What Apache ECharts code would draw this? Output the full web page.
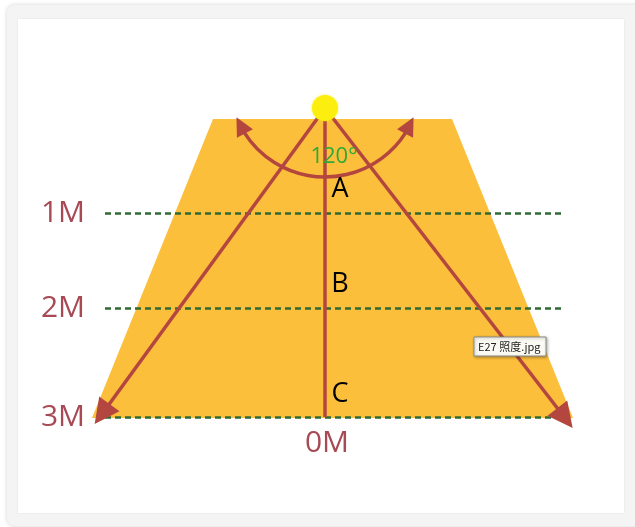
<!DOCTYPE html>
<html>
<head>
<meta charset="utf-8">
<script src="https://cdn.jsdelivr.net/npm/echarts@6/dist/echarts.min.js"></script>
<style>
html,body{margin:0;padding:0;background:#fff;}
#c{width:635px;height:527px;}
</style>
</head>
<body>
<div id="c"></div>
<script>
// Diagram drawn in a 635 x 527 coordinate space (y grows downward)
const trapezoid = [[213,119],[452,119],[573,418],[92,418]];
const levelY = [213, 308, 417];
const levelLabels = ['1M', '2M', '3M'];
const dashX = [105, 562];
const sun = [325, 108];
const beamEnds = [[102, 414], [565, 418]];
const centerBeam = [[325, 110], [325, 417]];
const arc = { cx: 325, cy: 81.5, r: 95.5, tipStart: 22, tipEnd: 158 };
const pointLabels = [['A', 340, 189], ['B', 340, 284], ['C', 340, 394]];
const angleLabel = ['120°', 334, 157];
const zeroLabel = ['0M', 327, 443];

const RED = '#b3463f';
const chart = echarts.init(document.getElementById('c'), null, {renderer: 'canvas'});

const series = [];

// trapezoid light field
series.push({
  type: 'custom', silent: true, z: 1,
  data: [0],
  renderItem: function (params, api) {
    return {
      type: 'polygon',
      shape: { points: trapezoid.map(p => api.coord(p)) },
      style: { fill: '#fcbf3b' }
    };
  }
});

// dashed distance lines
series.push({
  type: 'lines', coordinateSystem: 'cartesian2d', silent: true, z: 2,
  symbol: 'none',
  lineStyle: { color: '#2f6a34', width: 2.5, type: [6, 4], opacity: 1 },
  data: levelY.map(y => ({ coords: [[dashX[0], y], [dashX[1], y]] }))
});

// side beams with arrowheads
series.push({
  type: 'lines', coordinateSystem: 'cartesian2d', silent: true, z: 3,
  symbol: ['none', 'triangle'], symbolSize: [22, 25],
  lineStyle: { color: RED, width: 3.5, opacity: 1 },
  data: beamEnds.map(e => ({ coords: [sun, e] }))
});

// center vertical beam
series.push({
  type: 'lines', coordinateSystem: 'cartesian2d', silent: true, z: 3,
  symbol: 'none',
  lineStyle: { color: RED, width: 3.5, opacity: 1 },
  data: [{ coords: centerBeam }]
});

// 120 degree arc with arrowheads
series.push({
  type: 'custom', silent: true, z: 3,
  data: [0],
  renderItem: function (params, api) {
    const c = api.coord([arc.cx, arc.cy]);
    const r = api.size([arc.r, arc.r])[0];
    const rad = d => d * Math.PI / 180;
    const headDeg = 11;
    const pt = a => [c[0] + r * Math.cos(rad(a)), c[1] + r * Math.sin(rad(a))];
    function head(tipA, baseA) {
      const t = pt(tipA), b = pt(baseA);
      const dx = t[0] - b[0], dy = t[1] - b[1];
      const len = Math.hypot(dx, dy);
      const nx = -dy / len, ny = dx / len, w = 9;
      return {
        type: 'polygon',
        shape: { points: [t, [b[0] + nx * w, b[1] + ny * w], [b[0] - nx * w, b[1] - ny * w]] },
        style: { fill: RED }
      };
    }
    return {
      type: 'group',
      children: [
        {
          type: 'arc',
          shape: { cx: c[0], cy: c[1], r: r, startAngle: rad(arc.tipStart + headDeg - 1), endAngle: rad(arc.tipEnd - headDeg + 1), clockwise: true },
          style: { stroke: RED, lineWidth: 3.5, fill: null }
        },
        head(arc.tipStart, arc.tipStart + headDeg),
        head(arc.tipEnd, arc.tipEnd - headDeg)
      ]
    };
  }
});

// sun
series.push({
  type: 'scatter', silent: true, z: 5,
  symbolSize: 26,
  itemStyle: { color: '#fcee0e', opacity: 1, shadowBlur: 3, shadowColor: 'rgba(250,230,0,0.6)' },
  data: [sun]
});

// texts
function textSeries(items, style) {
  return {
    type: 'scatter', silent: true, z: 6, symbolSize: 0,
    itemStyle: { opacity: 1, color: 'rgba(0,0,0,0)' },
    data: items.map(t => ({ name: t[0], value: [t[1], t[2]] })),
    label: Object.assign({ show: true, position: 'inside', formatter: '{b}', fontFamily: 'Open Sans', opacity: 1, textBorderWidth: 0 }, style)
  };
}
series.push(textSeries(levelLabels.map((l, i) => [l, 63, levelY[i]]), { fontSize: 30, color: '#a84a55' }));
series.push(textSeries([zeroLabel], { fontSize: 30, color: '#a84a55' }));
series.push(textSeries(pointLabels, { fontSize: 27, color: '#000' }));
series.push(textSeries([angleLabel], { fontSize: 22, color: '#2fa83a' }));

chart.setOption({
  animation: false,
  backgroundColor: '#fff',
  grid: { left: 0, right: 0, top: 0, bottom: 0 },
  xAxis: { type: 'value', min: 0, max: 635, show: false },
  yAxis: { type: 'value', min: 0, max: 527, inverse: true, show: false },
  graphic: [
    { type: 'rect', z: -10, silent: true, shape: { x: 7, y: 5, width: 640, height: 521, r: 8 },
      style: { fill: '#f4f4f4', shadowBlur: 4, shadowColor: 'rgba(0,0,0,0.18)' } },
    { type: 'rect', z: -9, silent: true, shape: { x: 18, y: 19, width: 606, height: 494 },
      style: { fill: '#ffffff', shadowBlur: 2, shadowColor: 'rgba(0,0,0,0.08)' } },
    { type: 'rect', z: 100, silent: true, shape: { x: 474, y: 337, width: 72, height: 19 },
      style: { fill: '#fbfbf4', stroke: '#8a8a8a', lineWidth: 1, shadowBlur: 3, shadowOffsetX: 1, shadowOffsetY: 1, shadowColor: 'rgba(0,0,0,0.3)' } },
    { type: 'text', z: 101, silent: true, x: 478, y: 347,
      style: { text: 'E27 照度.jpg', fill: '#222', font: '11px "Noto Sans CJK SC", sans-serif', textVerticalAlign: 'middle' } }
  ],
  series: series
});
</script>
</body>
</html>
